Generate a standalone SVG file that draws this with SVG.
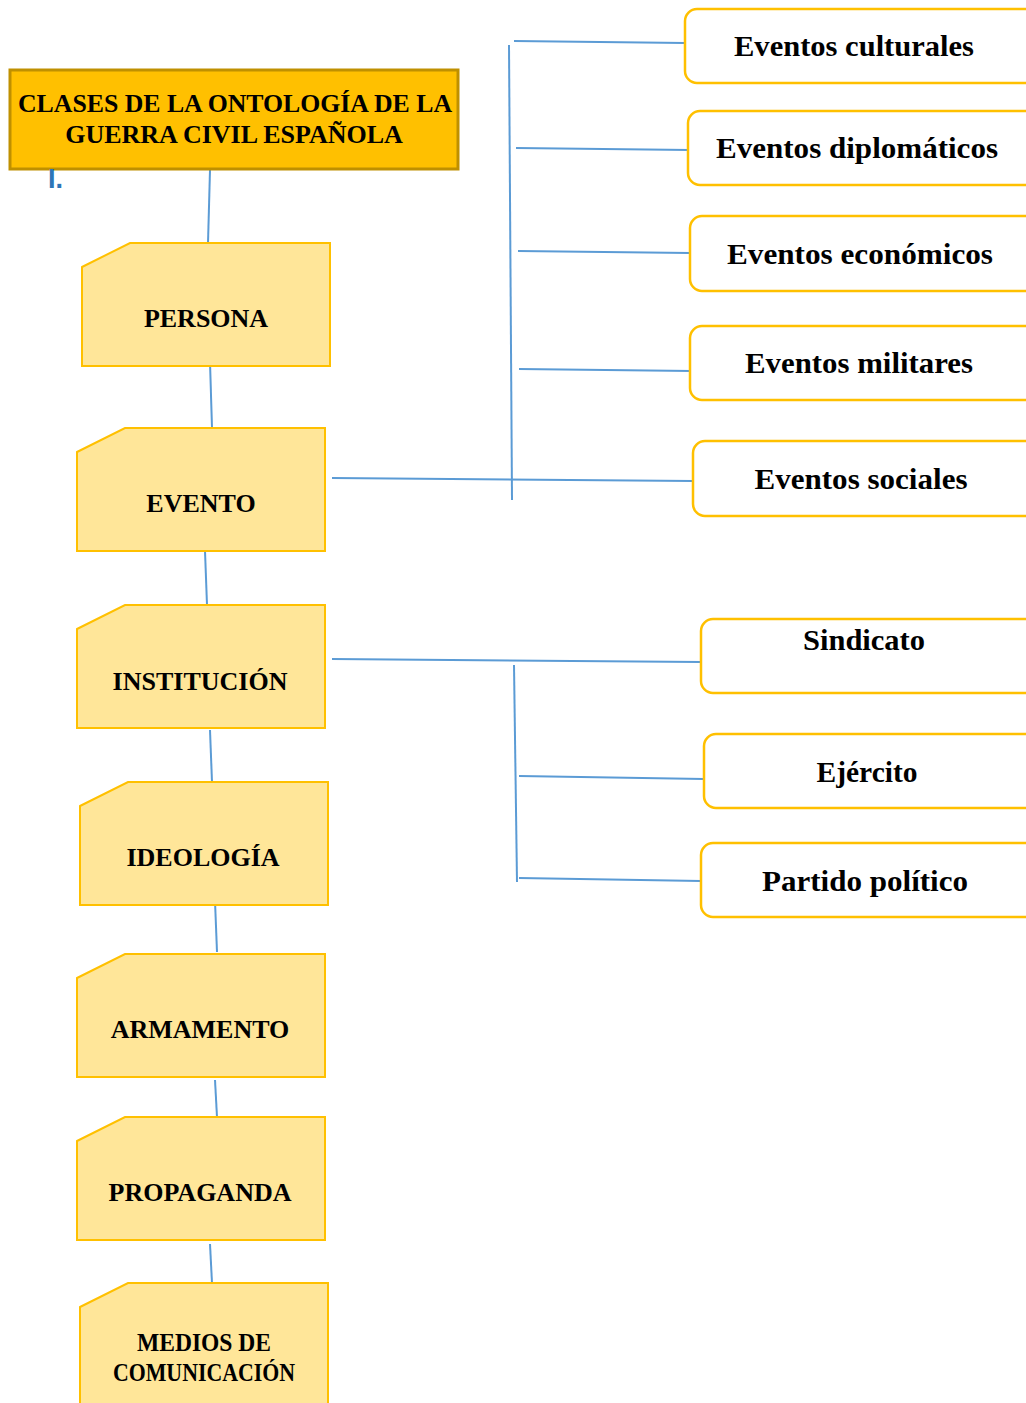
<svg xmlns="http://www.w3.org/2000/svg" width="1026" height="1403" viewBox="0 0 1026 1403">
<style>
.t{font-family:"Liberation Serif","DejaVu Serif",serif;font-weight:bold;fill:#000;text-anchor:middle}
.r{font-size:29px}
.ln{stroke:#5B9BD5;stroke-width:2;fill:none}
.cls{fill:#FFE699;stroke:#FFC000;stroke-width:2}
.sub{fill:#fff;stroke:#FFC000;stroke-width:2.5}
</style>
<rect width="1026" height="1403" fill="#fff"/>
<g id="connectors">
<line class="ln" x1="210" y1="170" x2="208" y2="243"/>
<line class="ln" x1="210" y1="362" x2="212" y2="428"/>
<line class="ln" x1="205" y1="551" x2="207" y2="605"/>
<line class="ln" x1="210" y1="730" x2="212" y2="782"/>
<line class="ln" x1="215" y1="901" x2="217" y2="952"/>
<line class="ln" x1="215" y1="1080" x2="217" y2="1117"/>
<line class="ln" x1="210" y1="1244" x2="212" y2="1283"/>
<line class="ln" x1="509" y1="45" x2="512" y2="500"/>
<line class="ln" x1="514" y1="41" x2="685" y2="43"/>
<line class="ln" x1="516" y1="148" x2="690" y2="150"/>
<line class="ln" x1="518" y1="251" x2="690" y2="253"/>
<line class="ln" x1="519" y1="369" x2="692" y2="371"/>
<line class="ln" x1="332" y1="478" x2="693" y2="481"/>
<line class="ln" x1="332" y1="659" x2="701" y2="662"/>
<line class="ln" x1="514" y1="665" x2="517" y2="882"/>
<line class="ln" x1="519" y1="776" x2="704" y2="779"/>
<line class="ln" x1="519" y1="878" x2="701" y2="881"/>
</g>
<g id="title">
<rect x="10" y="70" width="448" height="99" fill="#FFC000" stroke="#BF9000" stroke-width="3"/>
<text class="t" x="235" y="112" font-size="26" textLength="434" lengthAdjust="spacingAndGlyphs">CLASES DE LA ONTOLOGÍA DE LA</text>
<text class="t" x="234" y="143" font-size="26">GUERRA CIVIL ESPAÑOLA</text>
<text x="48" y="188" font-family="Liberation Sans,sans-serif" font-size="27" font-weight="bold" fill="#2E75B6">I.</text>
</g>
<g id="persona"><path class="cls" d="M82 267 L130 243 H330 V366 H82 Z"/><text class="t" x="206" y="327" font-size="26">PERSONA</text></g>
<g id="evento"><path class="cls" d="M77 452 L125 428 H325 V551 H77 Z"/><text class="t" x="201" y="512" font-size="26">EVENTO</text></g>
<g id="institucion"><path class="cls" d="M77 629 L125 605 H325 V728 H77 Z"/><text class="t" x="200" y="690" font-size="26">INSTITUCIÓN</text></g>
<g id="ideologia"><path class="cls" d="M80 806 L128 782 H328 V905 H80 Z"/><text class="t" x="203" y="866" font-size="26">IDEOLOGÍA</text></g>
<g id="armamento"><path class="cls" d="M77 978 L125 954 H325 V1077 H77 Z"/><text class="t" x="200" y="1038" font-size="26">ARMAMENTO</text></g>
<g id="propaganda"><path class="cls" d="M77 1141 L125 1117 H325 V1240 H77 Z"/><text class="t" x="200" y="1201" font-size="26">PROPAGANDA</text></g>
<g id="medios"><path class="cls" d="M80 1307 L128 1283 H328 V1410 H80 Z"/><text class="t" x="204" y="1351" font-size="25" textLength="134" lengthAdjust="spacingAndGlyphs">MEDIOS DE</text><text class="t" x="204" y="1381" font-size="25" textLength="182" lengthAdjust="spacingAndGlyphs">COMUNICACIÓN</text></g>
<g id="culturales"><rect class="sub" x="685" y="9" width="360" height="74" rx="12"/><text class="t r" x="854" y="56" textLength="240" lengthAdjust="spacingAndGlyphs">Eventos culturales</text></g>
<g id="diplomaticos"><rect class="sub" x="688" y="111" width="360" height="74" rx="12"/><text class="t r" x="857" y="158" textLength="282" lengthAdjust="spacingAndGlyphs">Eventos diplomáticos</text></g>
<g id="economicos"><rect class="sub" x="690" y="216" width="360" height="75" rx="12"/><text class="t r" x="860" y="264" textLength="266" lengthAdjust="spacingAndGlyphs">Eventos económicos</text></g>
<g id="militares"><rect class="sub" x="690" y="326" width="360" height="74" rx="12"/><text class="t r" x="859" y="373" textLength="228" lengthAdjust="spacingAndGlyphs">Eventos militares</text></g>
<g id="sociales"><rect class="sub" x="693" y="441" width="360" height="75" rx="12"/><text class="t r" x="861" y="489" textLength="213" lengthAdjust="spacingAndGlyphs">Eventos sociales</text></g>
<g id="sindicato"><rect class="sub" x="701" y="619" width="360" height="74" rx="12"/><text class="t r" x="864" y="650" textLength="122" lengthAdjust="spacingAndGlyphs">Sindicato</text></g>
<g id="ejercito"><rect class="sub" x="704" y="734" width="360" height="74" rx="12"/><text class="t r" x="867" y="782" textLength="101" lengthAdjust="spacingAndGlyphs">Ejército</text></g>
<g id="partido"><rect class="sub" x="701" y="843" width="360" height="74" rx="12"/><text class="t r" x="865" y="891" textLength="206" lengthAdjust="spacingAndGlyphs">Partido político</text></g>
</svg>
